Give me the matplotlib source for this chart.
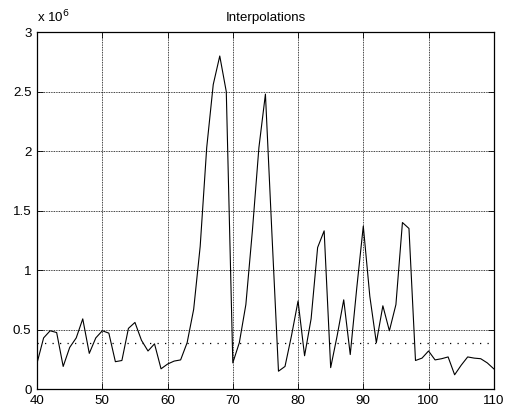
import matplotlib.pyplot as plt
import numpy as np

plt.rcParams['font.family'] = ['Liberation Sans', 'DejaVu Sans']

# sample index and interpolated values (units of 1e6)
x = np.arange(40, 111)
vals = [0.22, 0.43, 0.49, 0.475, 0.19, 0.35, 0.43, 0.59, 0.30, 0.43,
        0.49, 0.47, 0.23, 0.24, 0.51, 0.56, 0.41, 0.32, 0.38, 0.17,
        0.21, 0.235, 0.245, 0.39, 0.67, 1.2, 2.03, 2.56, 2.80, 2.5,
        0.22, 0.39, 0.71, 1.33, 2.03, 2.48, 1.3, 0.15, 0.19, 0.45,
        0.74, 0.28, 0.59, 1.19, 1.33, 0.18, 0.45, 0.75, 0.29, 0.85,
        1.37, 0.78, 0.39, 0.70, 0.49, 0.71, 1.40, 1.35, 0.24, 0.26,
        0.32, 0.245, 0.255, 0.27, 0.12, 0.2, 0.27, 0.26, 0.255, 0.22,
        0.17]
level = 0.39

xticks = [40, 50, 60, 70, 80, 90, 100, 110]
yticks = [0, 0.5, 1, 1.5, 2, 2.5, 3]
ylabels = ['0', '0.5', '1', '1.5', '2', '2.5', '3']

fig = plt.figure(figsize=(5.08, 4.13), dpi=100)
ax = fig.add_axes([0.073, 0.058, 0.899, 0.864])

ax.plot(x, vals, color='black', lw=0.8)
ax.plot([x[0], x[-1]], [level, level], color='black', lw=0.9,
        linestyle=(0, (1, 5)))

ax.set_xlim(40, 110)
ax.set_ylim(0, 3)
ax.set_xticks(xticks)
ax.set_yticks(yticks)
ax.set_yticklabels(ylabels)
ax.grid(True, color='black', linestyle=(0, (1, 1)), lw=0.6)
ax.tick_params(direction='in', length=4, width=0.6, labelsize=9.6,
               top=True, right=True, colors='black', pad=4)
for s in ax.spines.values():
    s.set_linewidth(0.9)

ax.set_title('Interpolations', fontsize=9.6, pad=8)
ax.text(0.0, 1.02, 'x 10$^{6}$', transform=ax.transAxes, fontsize=9.6,
        ha='left', va='bottom')

fig.savefig('out.png', dpi=100)
